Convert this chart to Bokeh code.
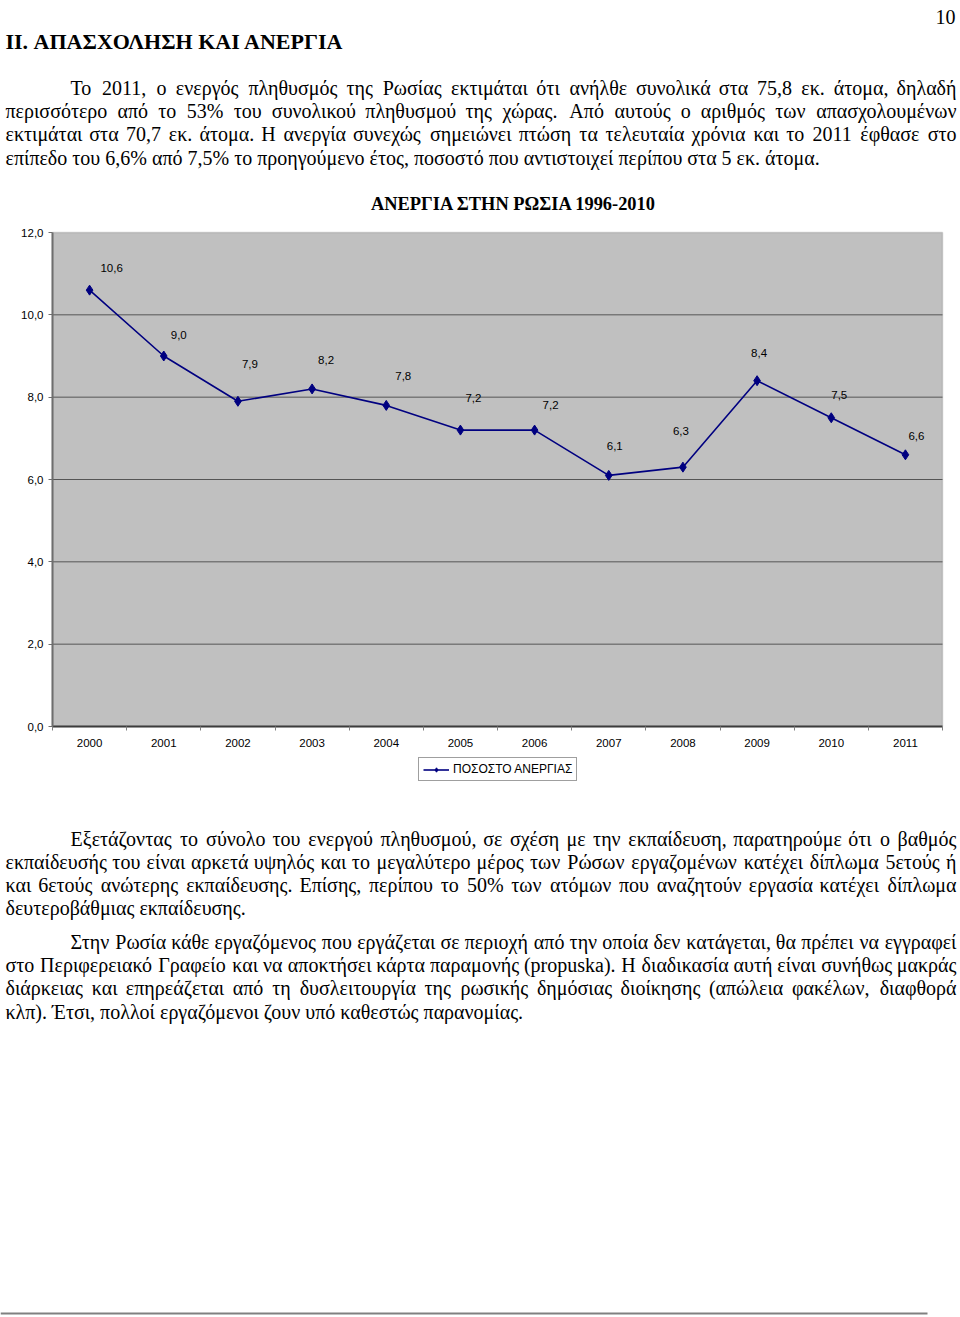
import unicodedata
from bokeh.plotting import figure
from bokeh.models import (Range1d, FixedTicker, CustomJSTickFormatter,
                          ColumnDataSource, Legend, LegendItem, BoxAnnotation)
from bokeh.core.properties import value
from bokeh.embed import file_html
from bokeh.resources import INLINE

# ---------------- data ----------------
years = ["2000", "2001", "2002", "2003", "2004", "2005",
         "2006", "2007", "2008", "2009", "2010", "2011"]
unemployment = [10.6, 9.0, 7.9, 8.2, 7.8, 7.2, 7.2, 6.1, 6.3, 8.4, 7.5, 6.6]
y_ticks = [0, 2, 4, 6, 8, 10, 12]

chart_title = "ΑΝΕΡΓΙΑ ΣΤΗΝ ΡΩΣΙΑ 1996-2010"
legend_label = "ΠΟΣΟΣΤΟ ΑΝΕΡΓΙΑΣ"
page_number = "10"
section_heading = "II. ΑΠΑΣΧΟΛΗΣΗ ΚΑΙ ΑΝΕΡΓΙΑ"

paragraph_1 = [
    "Το 2011, ο ενεργός πληθυσμός της Ρωσίας εκτιμάται ότι ανήλθε συνολικά στα 75,8 εκ. άτομα, δηλαδή",
    "περισσότερο από το 53% του συνολικού πληθυσμού της χώρας. Από αυτούς ο αριθμός των απασχολουμένων",
    "εκτιμάται στα 70,7 εκ. άτομα. Η ανεργία συνεχώς σημειώνει πτώση τα τελευταία χρόνια και το 2011 έφθασε στο",
    "επίπεδο του 6,6% από 7,5% το προηγούμενο έτος, ποσοστό που αντιστοιχεί περίπου στα 5 εκ. άτομα.",
]
paragraph_2 = [
    "Εξετάζοντας το σύνολο του ενεργού πληθυσμού, σε σχέση με την εκπαίδευση, παρατηρούμε ότι ο βαθμός",
    "εκπαίδευσής του είναι αρκετά υψηλός και το μεγαλύτερο μέρος των Ρώσων εργαζομένων κατέχει δίπλωμα 5ετούς ή",
    "και 6ετούς ανώτερης εκπαίδευσης. Επίσης, περίπου το 50% των ατόμων που αναζητούν εργασία κατέχει δίπλωμα",
    "δευτεροβάθμιας εκπαίδευσης.",
]
paragraph_3 = [
    "Στην Ρωσία κάθε εργαζόμενος που εργάζεται σε περιοχή από την οποία δεν κατάγεται, θα πρέπει να εγγραφεί",
    "στο Περιφερειακό Γραφείο και να αποκτήσει κάρτα παραμονής (propuska). Η διαδικασία αυτή είναι συνήθως μακράς",
    "διάρκειας και επηρεάζεται από τη δυσλειτουργία της ρωσικής δημόσιας διοίκησης (απώλεια φακέλων, διαφθορά",
    "κλπ). Έτσι, πολλοί εργαζόμενοι ζουν υπό καθεστώς παρανομίας.",
]

# ---------------- page geometry ----------------
PAGE_W, PAGE_H = 960, 1317
PLOT_LEFT, PLOT_RIGHT, PLOT_TOP, PLOT_BOTTOM = 52, 942, 232, 726
Y_MAX = 12

SERIF = "Liberation Serif"
SANS = "Liberation Sans"
BODY_SIZE = 20.0
LEFT = 5
RIGHT = 956
INDENT = 70
WIDTH_SCALE = 1.0

_W = {' ': .25, ',': .25, '.': .25, '%': .833, '(': .333, ')': .333, '-': .333,
      'p': .5, 'r': .333, 'o': .5, 'u': .5, 's': .389, 'k': .5, 'a': .444,
      'α': .5, 'β': .5, 'γ': .45, 'δ': .5, 'ε': .42, 'ζ': .42, 'η': .5, 'θ': .5,
      'ι': .27, 'κ': .48, 'λ': .48, 'μ': .52, 'ν': .45, 'ξ': .42, 'ο': .5, 'π': .52,
      'ρ': .5, 'σ': .52, 'ς': .42, 'τ': .42, 'υ': .48, 'φ': .62, 'χ': .48, 'ψ': .65,
      'ω': .68,
      'Α': .722, 'Β': .667, 'Γ': .6, 'Δ': .66, 'Ε': .611, 'Ζ': .611, 'Η': .722,
      'Θ': .722, 'Ι': .333, 'Κ': .722, 'Λ': .7, 'Μ': .889, 'Ν': .722, 'Ξ': .64,
      'Ο': .722, 'Π': .722, 'Ρ': .556, 'Σ': .6, 'Τ': .611, 'Υ': .722, 'Φ': .77,
      'Χ': .722, 'Ψ': .78, 'Ω': .77}


def est_width(s, size=BODY_SIZE):
    total = 0.0
    for ch in unicodedata.normalize("NFD", s):
        if unicodedata.combining(ch):
            continue
        total += _W.get(ch, 0.5)
    return total * size * WIDTH_SCALE


words = dict(left=dict(x=[], y=[], text=[]), right=dict(x=[], y=[], text=[]))


def place_line(text, left, baseline, justify):
    if not justify:
        words["left"]["x"].append(left)
        words["left"]["y"].append(baseline)
        words["left"]["text"].append(text)
        return
    ws = text.split(" ")
    widths = [est_width(w) for w in ws]
    gap = (RIGHT - left - sum(widths)) / (len(ws) - 1)
    pos = left
    for i, (w, wd) in enumerate(zip(ws, widths)):
        side = "right" if i == len(ws) - 1 else "left"
        words[side]["x"].append(RIGHT if side == "right" else pos)
        words[side]["y"].append(baseline)
        words[side]["text"].append(w)
        pos += wd + gap


def place_paragraph(lines, baselines):
    for i, (line, b) in enumerate(zip(lines, baselines)):
        left = INDENT if i == 0 else LEFT
        place_line(line, left, b, justify=(i < len(lines) - 1))


place_paragraph(paragraph_1, [87, 110, 133.5, 157])
place_paragraph(paragraph_2, [838, 861, 884, 907])
place_paragraph(paragraph_3, [941, 964, 987, 1011])

# ---------------- figure: frame = whole page ----------------
n = len(years)
x_pos = [i + 0.5 for i in range(n)]
ux = (PLOT_RIGHT - PLOT_LEFT) / n
uy = (PLOT_BOTTOM - PLOT_TOP) / Y_MAX

p = figure(width=PAGE_W, height=PAGE_H,
           x_range=Range1d(-PLOT_LEFT / ux, n + (PAGE_W - PLOT_RIGHT) / ux),
           y_range=Range1d(-(PAGE_H - PLOT_BOTTOM) / uy, Y_MAX + PLOT_TOP / uy),
           output_backend="svg", toolbar_location=None, min_border=0,
           background_fill_color="white", border_fill_color="white",
           outline_line_color=None)
p.extra_x_ranges = {"px": Range1d(0, PAGE_W)}
p.extra_y_ranges = {"px": Range1d(PAGE_H, 0)}
p.xgrid.visible = False
p.ygrid.visible = False

# plot area
p.add_layout(BoxAnnotation(left=0, right=n, bottom=0, top=Y_MAX,
                           fill_color="#C0C0C0", fill_alpha=1,
                           line_color="#808080", line_width=1.5, level="underlay"))
# horizontal gridlines at the y ticks
p.segment(x0=0, x1=n, y0=y_ticks[1:-1], y1=y_ticks[1:-1],
          line_color="#555555", line_width=1)

xa = p.xaxis[0]
xa.fixed_location = 0
xa.bounds = (0, n)
xa.ticker = FixedTicker(ticks=x_pos, minor_ticks=list(range(n + 1)))
xa.formatter = CustomJSTickFormatter(args=dict(years=years),
                                     code="return years[Math.floor(tick)];")
xa.axis_line_color = "#3c3c3c"
xa.axis_line_width = 2
xa.major_tick_line_color = None
xa.major_tick_out = 4
xa.major_tick_in = 0
xa.minor_tick_out = 4
xa.minor_tick_in = 0
xa.minor_tick_line_color = "#808080"
xa.major_label_standoff = 8
xa.major_label_text_font = SANS
xa.major_label_text_font_size = "11.5px"
xa.major_label_text_color = "black"

ya = p.yaxis[0]
ya.fixed_location = 0
ya.bounds = (0, Y_MAX)
ya.ticker = FixedTicker(ticks=y_ticks, minor_ticks=[])
ya.formatter = CustomJSTickFormatter(code="return tick.toFixed(1).replace('.', ',');")
ya.axis_line_color = "#6e6e6e"
ya.axis_line_width = 2
ya.major_tick_line_color = "#6e6e6e"
ya.major_tick_out = 4
ya.major_tick_in = 0
ya.minor_tick_line_color = None
ya.major_label_standoff = 5
ya.major_label_text_font = SANS
ya.major_label_text_font_size = "11.5px"
ya.major_label_text_color = "black"

# series
src = ColumnDataSource(dict(
    x=x_pos, y=unemployment,
    lab=[f"{v:.1f}".replace(".", ",") for v in unemployment],
    dx=[22, 15, 12, 14, 17, 13, 16, 6, -2, 2, 8, 11],
    dy=[-22, -21, -37, -29, -29, -32, -25, -29, -36, -28, -23, -19],
))
line_r = p.line("x", "y", source=src, line_color="#000080", line_width=1.6)
pts_r = p.scatter("x", "y", source=src, marker="diamond", size=10,
                  fill_color="#000080", line_color="#000080")
p.text("x", "y", text="lab", source=src, x_offset="dx", y_offset="dy",
       text_font=value(SANS), text_font_size="11.5px", text_color="black",
       text_align="center", text_baseline="middle")

legend = Legend(items=[LegendItem(label=legend_label, renderers=[line_r, pts_r])],
                location=(418, PAGE_H - 781), orientation="horizontal",
                border_line_color="#404040", border_line_width=1,
                background_fill_color="white", background_fill_alpha=1,
                padding=4, margin=0, spacing=0,
                glyph_width=26, glyph_height=11, label_height=11,
                label_standoff=4, label_text_font=SANS,
                label_text_font_size="12px", label_text_color="black")
p.add_layout(legend)

# ---------------- page texts (pixel coordinates via the "px" ranges) ----------------
for side in ("left", "right"):
    p.text("x", "y", text="text", source=ColumnDataSource(words[side]),
           x_range_name="px", y_range_name="px",
           text_font=value(SERIF), text_font_size="20px", text_color="black",
           text_align=side, text_baseline="alphabetic")

p.text(x=[LEFT], y=[41], text=[section_heading], x_range_name="px", y_range_name="px",
       text_font=value(SERIF), text_font_style="bold", text_font_size="22px",
       text_color="black", text_align="left", text_baseline="alphabetic")
p.text(x=[955], y=[16], text=[page_number], x_range_name="px", y_range_name="px",
       text_font=value(SERIF), text_font_size="20px", text_color="black",
       text_align="right", text_baseline="alphabetic")
p.text(x=[513.5], y=[203], text=[chart_title], x_range_name="px", y_range_name="px",
       text_font=value(SERIF), text_font_style="bold", text_font_size="18.4px",
       text_color="black", text_align="center", text_baseline="alphabetic")

# bottom rule of the page
p.add_layout(BoxAnnotation(left=0, right=927, top=1312, bottom=1314,
                           x_range_name="px", y_range_name="px",
                           fill_color="#808080", fill_alpha=1, line_color=None))

open("out.html", "w").write(file_html(p, INLINE))
